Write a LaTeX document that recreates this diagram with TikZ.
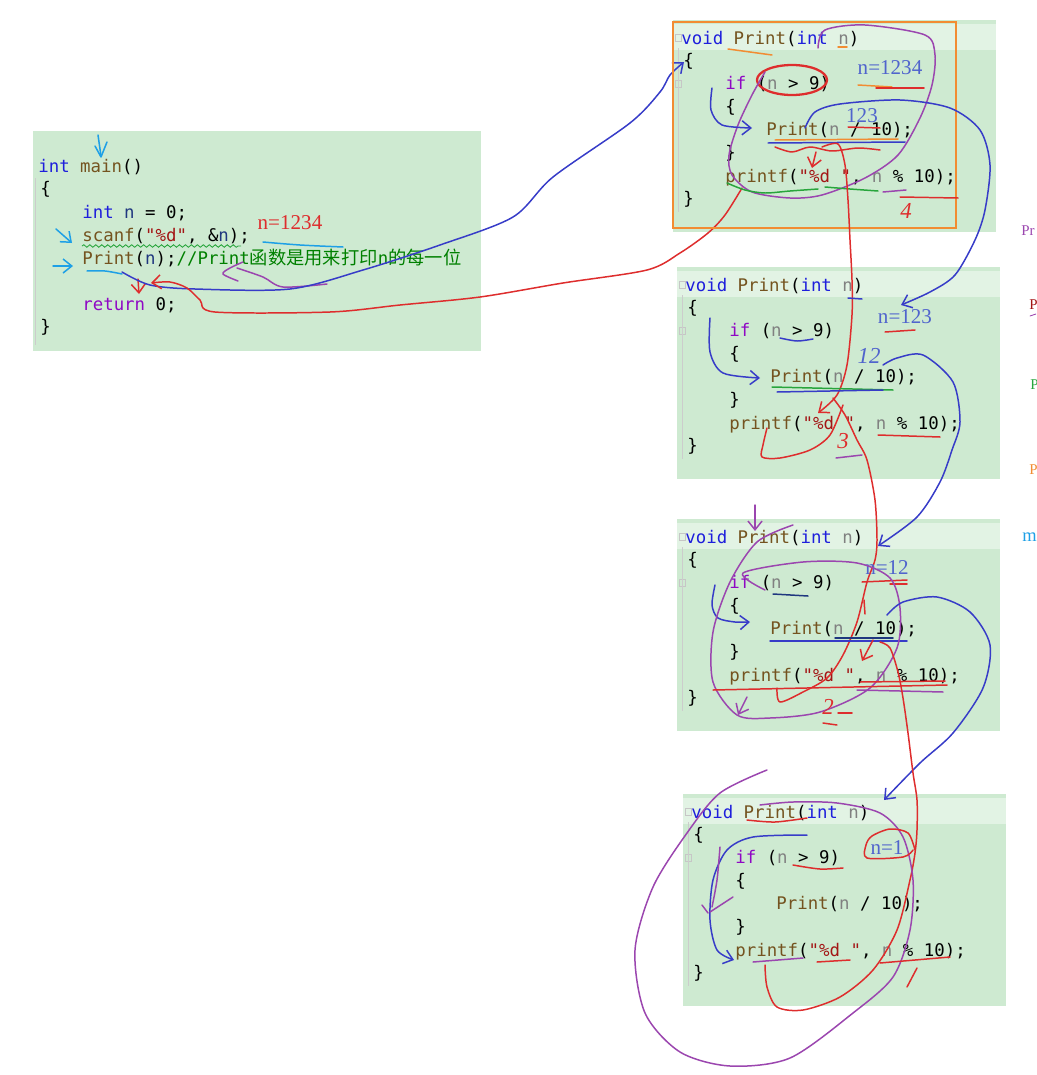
\documentclass[tikz,border=0pt]{standalone}
\usepackage{fontspec}
\setmonofont{DejaVu Sans Mono}
\newfontfamily\cjkfam{Noto Sans CJK SC}
\newfontfamily\handfam{Liberation Serif}
\usetikzlibrary{arrows.meta,decorations.pathmorphing}

\definecolor{panelgreen}{RGB}{206,234,209}
\definecolor{panellight}{RGB}{226,243,228}
\definecolor{kwblue}{RGB}{30,30,220}
\definecolor{fnbrown}{RGB}{116,83,31}
\definecolor{ctlpurple}{RGB}{143,8,196}
\definecolor{prmgrey}{RGB}{128,128,128}
\definecolor{lclnavy}{RGB}{31,55,127}
\definecolor{strred}{RGB}{163,21,21}
\definecolor{cmtgreen}{RGB}{0,128,0}
\definecolor{inkred}{RGB}{222,45,45}
\definecolor{inkblue}{RGB}{55,60,200}
\definecolor{inkpurple}{RGB}{155,70,175}
\definecolor{inkcyan}{RGB}{30,160,230}
\definecolor{inkorange}{RGB}{242,140,50}
\definecolor{inkgreen}{RGB}{40,165,60}
\definecolor{labelblue}{RGB}{80,100,205}

\newcommand{\codefont}{\fontsize{9.9}{12}\ttfamily}
\newcommand{\cjk}{\fontsize{10.4}{12}\cjkfam}
\newcommand{\handfont}{\fontsize{12}{14}\handfam}
\newcommand{\kw}[1]{\textcolor{kwblue}{#1}}
\newcommand{\fnc}[1]{\textcolor{fnbrown}{#1}}
\newcommand{\ctl}[1]{\textcolor{ctlpurple}{#1}}
\newcommand{\prm}[1]{\textcolor{prmgrey}{#1}}
\newcommand{\lcl}[1]{\textcolor{lclnavy}{#1}}
\newcommand{\strlit}[1]{\textcolor{strred}{#1}}
\newcommand{\cmt}[1]{\textcolor{cmtgreen}{#1}}

\begin{document}
\begin{tikzpicture}[x=0.02cm,y=-0.02cm,
  code/.style={anchor=base west,inner sep=0pt,font=\codefont},
  hand/.style={inner sep=0pt,font=\handfont},
  bighand/.style={inner sep=0pt,font=\fontsize{13}{15}\handfam\itshape},
  side/.style={anchor=west,inner sep=0pt,font=\fontsize{8.5}{10}\handfam},
  ink/.style={line width=0.85pt,line cap=round,line join=round},
  tip/.style={-{Straight Barb[length=5pt,width=8pt]}}]
  \useasboundingbox (0,0) rectangle (1036,1075);
  \clip (0,0) rectangle (1036,1075);

  % main()
  \fill[panelgreen] (33,131) rectangle (481,351);
  \draw[gray!40,line width=0.4pt] (35,178) -- (35,345);
  \node[code] (m-l1) at (38,172) {\kw{int} \fnc{main}()};
  \node[code] (m-l2) at (40,194) {\{};
  \node[code] (m-l3) at (82,218) {\kw{int} \lcl{n} = 0;};
  \node[code] (m-l4) at (82,241) {\fnc{scanf}(\strlit{"\%d"}, \&\lcl{n});};
  \node[code] (m-l5) at (82,264) {\fnc{Print}(\lcl{n});\cmt{//Print{\cjk 函数是用来打印}n{\cjk 的每一位}}};
  \node[code] (m-l6) at (82,310) {\ctl{return} 0;};
  \node[code] (m-l7) at (40,332) {\}};
  \draw[inkgreen,line width=0.5pt,decorate,decoration={snake,amplitude=0.7pt,segment length=3.4pt}]
    (82,246) -- (241,246);

  % the four calls of Print
  \foreach \px/\py/\k in {673/20/1,677/267/2,677/519/3,683/794/4}{
    \fill[panelgreen] (\px,\py) rectangle ++(323,212);
    \fill[panellight] (\px,\py+4) rectangle ++(323,26);
    \draw[gray!45,line width=0.4pt] (\px+2,\py+14) rectangle ++(6,7);
    \draw[gray!45,line width=0.4pt] (\px+2,\py+60) rectangle ++(6,7);
    \draw[gray!40,line width=0.4pt] (\px+5,\py+28) -- (\px+5,\py+192);
    \node[code] (p\k-l1) at (\px+8,\py+24) {\kw{void} \fnc{Print}(\kw{int} \prm{n})};
    \node[code] (p\k-l2) at (\px+10,\py+46) {\{};
    \node[code] (p\k-l3) at (\px+52,\py+69) {\ctl{if} (\prm{n} > 9)};
    \node[code] (p\k-l4) at (\px+52,\py+92) {\{};
    \node[code] (p\k-l5) at (\px+93,\py+115) {\fnc{Print}(\prm{n} / 10);};
    \node[code] (p\k-l6) at (\px+52,\py+138) {\}};
    \node[code] (p\k-l7) at (\px+52,\py+162) {\fnc{printf}(\strlit{"\%d "}, \prm{n} \% 10);};
    \node[code] (p\k-l8) at (\px+10,\py+184) {\}};
  }

  % ends of the long strokes
  \coordinate (callIn) at (684,62);
  \coordinate (backIn) at (151,283);

  % notes on main()
  \draw[ink,inkcyan] (98,135) -- (101,156);
  \draw[ink,inkcyan] (95,146) -- (101,157) -- (107,142);
  \draw[ink,inkcyan,tip] (56,229) -- (72,243);
  \draw[ink,inkcyan,tip] (53,266) -- (73,266);
  \draw[ink,inkcyan] plot[smooth] coordinates {(87,271) (105,271) (122,274)};
  \draw[ink,inkcyan] plot[smooth] coordinates {(263,242) (300,245) (343,247)};
  \draw[ink,inkpurple] plot[smooth] coordinates {(243,262) (230,268) (223,274) (238,281)};
  \draw[ink,inkpurple] plot[smooth] coordinates {(237,268) (263,277) (283,287) (327,284)};
  \draw[ink,inkred,tip] (138,279) -- (139,294);
  \node[hand,inkred] (nmain) at (290,223) {n=1234};
  \draw[ink,inkblue,tip] plot[smooth] coordinates {(122,272) (150,285) (195,289) (290,289)
    (363,270) (440,245) (513,217) (553,177) (630,123) (660,92) (670,75) (callIn)};
  \draw[ink,inkred,tip] plot[smooth] coordinates {(742,188) (725,215) (708,233) (680,253)
    (647,270) (563,283) (480,297) (400,305) (330,312) (215,312) (200,300) (187,288)
    (170,282) (backIn)};

  % Print(1234)
  \draw[inkorange,line width=1.2pt] (673,22) rectangle (956,228);
  \draw[ink,inkorange] plot[smooth] coordinates {(728,49) (750,52) (772,55)};
  \draw[ink,inkorange] (838,47) -- (847,47);
  \draw[inkred,line width=1.3pt] (792,80) ellipse [x radius=35,y radius=15];
  \node[hand,labelblue] (n1) at (890,68) {n=1234};
  \draw[ink,inkorange] (858,85) -- (892,87);
  \draw[ink,inkred] (876,88) -- (924,88);
  \draw[ink,inkpurple] plot[smooth] coordinates {(818,48) (825,30) (865,25) (925,35)
    (935,55) (932,85) (920,118) (898,155) (865,178) (822,195) (790,198) (752,192)
    (732,175) (729,155) (738,125) (752,95) (765,72)};
  \draw[ink,inkblue,tip] plot[smooth] coordinates {(712,88) (711,110) (722,125) (752,128)};
  \draw[ink,inkorange] (775,140) -- (898,139);
  \draw[ink,inkblue] (768,143) -- (905,142);
  \draw[ink,inkred] plot[smooth] coordinates {(775,147) (792,152) (810,147) (832,151) (858,148) (880,150)};
  \draw[ink,inkred,tip] (816,152) -- (812,168);
  \node[hand,labelblue] (d1) at (862,116) {123};
  \draw[ink,inkred] (848,127) -- (880,128);
  \draw[ink,inkgreen] plot[smooth] coordinates {(727,183) (745,190) (765,193) (790,191) (818,189)};
  \draw[ink,inkgreen] plot[smooth] coordinates {(825,187) (850,189) (878,191)};
  \draw[ink,inkpurple] (883,192) -- (906,190);
  \draw[ink,inkred] (900,197) -- (958,198);
  \node[bighand,inkred] (o1) at (906,211) {4};
  \draw[ink,inkblue,tip] plot[smooth] coordinates {(805,128) (815,112) (840,104) (900,100)
    (950,108) (980,130) (990,165) (985,210) (975,240) (955,275) (930,292) (901,305)};
  \draw[ink,inkred,tip] plot[smooth] coordinates {(822,147) (838,144) (845,165) (848,200)
    (850,240) (852,280) (852,315) (847,365) (837,395) (818,413)};

  % Print(123)
  \draw[ink,inkblue] (848,298) -- (862,299);
  \node[hand,labelblue] (n2) at (905,317) {n=123};
  \draw[ink,inkred] (885,332) -- (915,330);
  \draw[ink,inkblue] plot[smooth] coordinates {(780,338) (797,341) (813,339)};
  \node[bighand,labelblue] (d2) at (869,356) {12};
  \draw[ink,inkblue,tip] plot[smooth] coordinates {(710,318) (710,352) (723,373) (760,378)};
  \draw[ink,inkgreen] (772,387) -- (893,390);
  \draw[ink,inkblue] (777,392) -- (883,390);
  \draw[ink,inkred] (878,435) -- (940,437);
  \node[bighand,inkred] (o2) at (843,441) {3};
  \draw[ink,inkpurple] (836,458) -- (862,455);
  \draw[ink,inkred] plot[smooth] coordinates {(767,428) (763,445) (762,457) (780,458)
    (810,450) (830,435) (843,405)};
  \draw[ink,inkblue,tip] plot[smooth] coordinates {(883,365) (897,358) (923,355) (953,382)
    (960,422) (952,450) (940,482) (917,517) (878,546)};
  \draw[ink,inkred] plot[smooth] coordinates {(833,398) (845,415) (857,440) (867,460)
    (875,500) (877,540) (875,560) (867,582) (857,622) (843,655) (827,678) (803,692)
    (780,702) (777,688)};

  % Print(12)
  \draw[ink,inkpurple,tip] (755,505) -- (755,531);
  \node[hand,labelblue] (n3) at (887,568) {n=12};
  \draw[ink,inkred] (862,582) -- (907,580);
  \draw[ink,inkred] (890,584) -- (907,584);
  \draw[ink,lclnavy] (773,594) -- (808,596);
  \draw[ink,inkred] (864,600) -- (865,614);
  \draw[ink,inkblue,tip] plot[smooth] coordinates {(715,585) (712,605) (718,618) (735,622) (750,622)};
  \draw[ink,inkblue] (770,641) -- (907,641);
  \draw[ink,lclnavy] (835,638) -- (893,638);
  \draw[ink,inkpurple] plot[smooth] coordinates {(793,525) (757,542) (730,582) (713,632)
    (713,682) (737,715) (770,718) (820,712) (870,688) (897,648) (900,608) (890,578)
    (857,563) (803,562) (743,573) (765,590)};
  \draw[ink,inkpurple,tip] (747,697) -- (738,715);
  \draw[ink,inkred] (713,690) -- (947,685);
  \draw[ink,inkred] (860,682) -- (945,681);
  \draw[ink,inkpurple] (857,690) -- (943,692);
  \draw[ink,inkred,tip] (873,640) -- (862,661);
  \node[bighand,inkred] (o3) at (828,707) {2};
  \draw[ink,inkred] (838,713) -- (852,713);
  \draw[ink,inkred] (823,723) -- (837,725);
  \draw[ink,inkblue,tip] plot[smooth] coordinates {(887,615) (903,602) (937,597) (970,612)
    (990,645) (983,688) (953,733) (920,763) (884,800)};
  \draw[ink,inkred] plot[smooth] coordinates {(880,642) (890,648) (898,672) (903,698)
    (908,733) (913,773) (917,800) (917,830) (915,853) (910,880) (897,930) (873,970)
    (840,997) (803,1010) (777,1007) (767,987) (765,965)};

  % Print(1)
  \draw[ink,inkpurple] plot[smooth] coordinates {(767,770) (720,793) (687,833) (653,887)
    (635,950) (645,1013) (680,1052) (730,1066) (790,1058) (853,1013) (893,977)
    (910,930) (913,880) (903,837) (880,813) (837,803) (793,802) (760,805)};
  \node[hand,labelblue] (n4) at (887,848) {n=1};
  \draw[ink,inkred] plot[smooth] coordinates {(913,850) (903,857) (867,858) (866,845)
    (872,836) (890,829) (908,833) (915,850)};
  \draw[ink,inkred] plot[smooth] coordinates {(747,820) (775,822) (807,818)};
  \draw[ink,inkred] plot[smooth] coordinates {(793,865) (820,869) (843,868)};
  \draw[ink,inkblue,tip] plot[smooth] coordinates {(807,835) (753,837) (727,850) (713,880)
    (710,920) (717,950) (734,960)};
  \draw[ink,inkpurple] plot[smooth] coordinates {(720,847) (717,880) (712,907)};
  \draw[ink,inkpurple] (733,897) -- (710,912);
  \draw[ink,inkpurple] (702,905) -- (708,913);
  \draw[ink,inkpurple] (753,962) -- (803,958);
  \draw[ink,inkred] (817,962) -- (850,960);
  \draw[ink,inkred] (880,963) -- (950,957);
  \draw[ink,inkred] (917,968) -- (907,987);

  % cut-off notes at the right edge
  \node[side,inkpurple] (s1) at (1021,231) {Pr};
  \node[side,text=strred] (s2) at (1029,305) {P};
  \draw[ink,inkpurple,line width=0.5pt] (1030,316) -- (1036,314);
  \node[side,inkgreen] (s3) at (1030,385) {P};
  \node[side,inkorange] (s4) at (1029,470) {P};
  \node[side,inkcyan,font=\fontsize{10.5}{12}\handfam] (s5) at (1022,537) {m};
\end{tikzpicture}
\end{document}
